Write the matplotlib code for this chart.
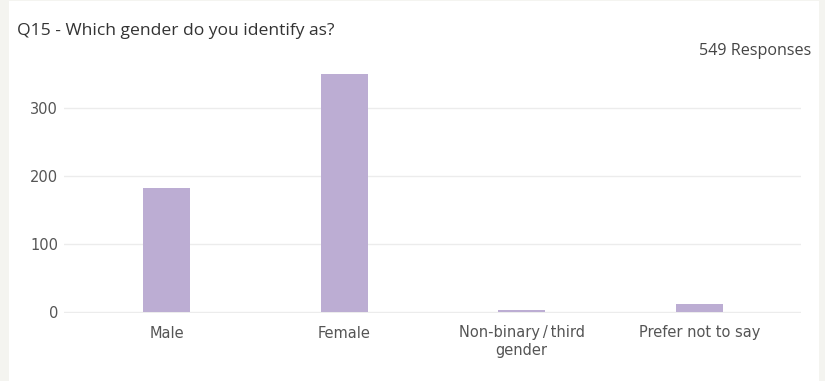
import matplotlib
matplotlib.use("Agg")
import matplotlib.pyplot as plt
from matplotlib.patches import Rectangle

categories = ["Male", "Female", "Non-binary\u2009/\u2009third\ngender", "Prefer not to say"]
counts = [183, 351, 3, 12]
yticks = [0, 100, 200, 300]
title = "Q15 - Which gender do you identify as?"
responses_label = "549 Responses"

W, H = 825, 381
fig = plt.figure(figsize=(W / 100, H / 100), dpi=100)
fig.patch.set_facecolor("#f4f4f0")
# white card
card = Rectangle((9 / W, 0), (819 - 9) / W, 1 - 1 / H, transform=fig.transFigure,
                 facecolor="white", edgecolor="none", zorder=-10)
fig.add_artist(card)

left, right = 63.5, 801.5
top_px, bot_px = 60, 313
y0_px, y300_px = 312, 108.3
ppu = (y0_px - y300_px) / 300.0
ymin = -(bot_px - y0_px) / ppu
ymax = (y0_px - top_px) / ppu
ax = fig.add_axes([left / W, 1 - bot_px / H, (right - left) / W, (bot_px - top_px) / H])
ax.set_zorder(5)
ax.set_facecolor("none")

c0, band = 166.7, 177.5
xmin = (left - c0) / band
xmax = (right - c0) / band
ax.bar(range(len(categories)), counts, width=47 / band, color="#bcadd3", zorder=3)
ax.set_xlim(xmin, xmax)
ax.set_ylim(ymin, ymax)
ax.set_yticks(yticks)
ax.set_yticklabels([str(v) for v in yticks], fontfamily="DejaVu Sans", fontsize=10.5, color="#555555")
ax.set_xticks(range(len(categories)))
ax.set_xticklabels(categories, fontfamily="DejaVu Sans", fontsize=10.5, color="#555555", linespacing=1.2)
ax.tick_params(axis="both", length=0)
ax.tick_params(axis="y", pad=4)
ax.tick_params(axis="x", pad=9)
ax.grid(axis="y", color="#ececec", linewidth=1, zorder=0)
for s in ax.spines.values():
    s.set_visible(False)

fig.text(17 / W, 1 - 31 / H, title, fontfamily="Open Sans", fontsize=12.6,
         color="#333333", ha="left", va="center", zorder=10)
fig.text(811 / W, 1 - 51 / H, responses_label, fontfamily="Open Sans", fontsize=11.6, color="#444444",
         ha="right", va="center", zorder=10)

fig.savefig("out.png", dpi=100, facecolor=fig.get_facecolor())
